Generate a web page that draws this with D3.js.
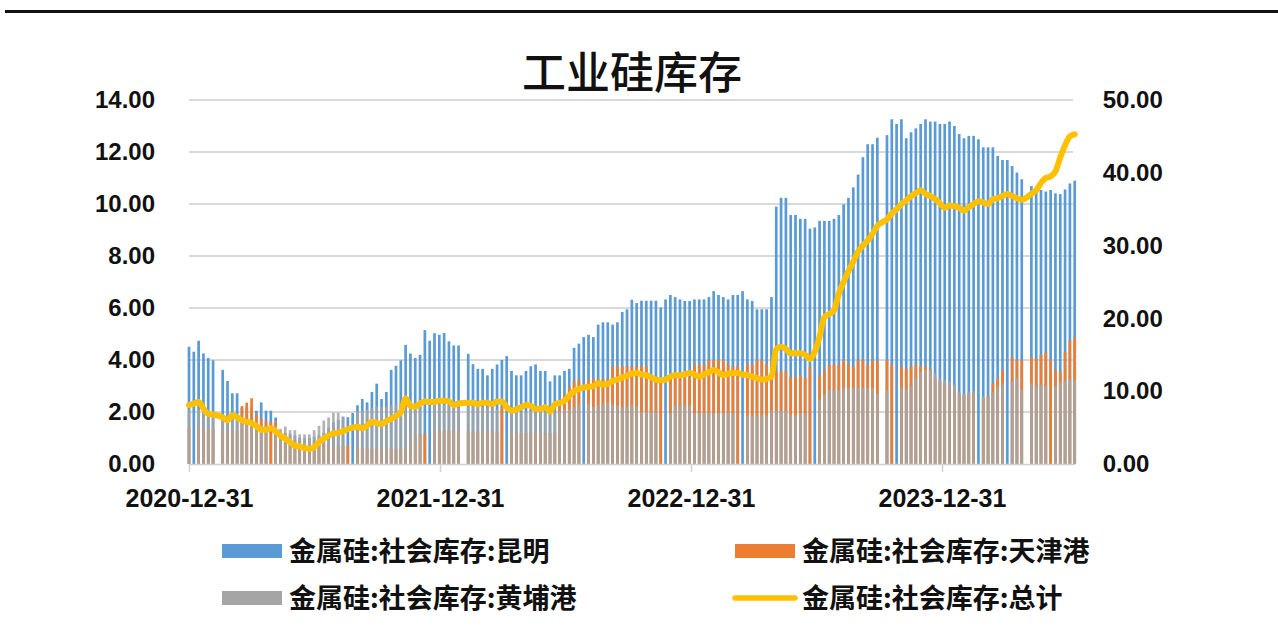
<!DOCTYPE html>
<html>
<head>
<meta charset="utf-8">
<script src="https://cdn.jsdelivr.net/npm/d3@7"></script>
<style>
  body { margin: 0; background: #fff; }
  text { font-family: "Liberation Sans", Arial, sans-serif; }
  .cjk { font-family: "Noto Sans CJK SC", sans-serif; }
</style>
</head>
<body>
<div id="viz"></div>
<script>
// set up width and height
const width = 1278;
const height = 642;

// weekly points, first one on 2020-12-31
const firstWeek = new Date(2020, 11, 31);
const yearTicks = ["2020-12-31", "2021-12-31", "2022-12-31", "2023-12-31"];
const leftTicks = [0, 2, 4, 6, 8, 10, 12, 14];
const rightTicks = [0, 10, 20, 30, 40, 50];
const seriesNames = ["金属硅:社会库存:昆明", "金属硅:社会库存:天津港", "金属硅:社会库存:黄埔港", "金属硅:社会库存:总计"];

// 昆明
const kunming = [4.51,4.32,4.74,4.25,4.08,3.99,null,3.62,3.19,2.72,2.72,2.15,2.2,2.2,2.05,2.37,2.05,2.05,1.79,1.25,
1.2,1.15,1.1,1.0,1.0,1.0,1.05,1.1,1.2,1.4,1.6,1.7,1.8,1.8,1.96,2.26,2.5,2.37,2.77,3.09,
2.5,2.77,3.62,3.78,3.99,4.58,4.25,4.08,4.2,5.15,4.74,5.03,4.97,5.04,4.72,4.56,4.56,null,4.24,3.84,
3.66,3.66,3.41,3.66,3.83,4.0,4.15,3.58,3.41,3.41,3.58,3.76,3.83,3.58,3.58,3.18,3.41,3.41,3.58,3.66,
4.47,4.63,4.88,4.97,4.88,5.36,5.45,5.45,5.36,5.45,5.85,5.95,6.32,6.19,6.28,6.28,6.28,6.28,6.02,6.33,
6.5,6.42,6.33,6.27,6.27,6.33,6.33,6.33,6.42,6.65,6.5,6.42,6.33,6.5,6.5,6.65,6.33,6.27,5.95,5.95,
5.95,6.42,9.9,10.24,10.24,9.58,9.58,9.43,9.43,9.05,9.1,9.35,9.35,9.35,9.43,9.58,9.99,10.24,10.64,11.13,
11.8,12.3,12.3,12.55,null,12.65,13.26,13.08,13.26,12.53,12.76,12.91,13.08,13.26,13.17,13.17,13.08,13.08,13.17,13.0,
12.69,12.53,12.62,12.62,12.49,12.18,12.18,12.18,11.85,11.69,11.69,11.46,11.21,10.95,null,10.69,10.54,10.54,10.48,10.54,
10.41,10.38,10.56,10.79,10.9];

// 天津港
const tianjin = [1.4,null,1.4,1.4,1.35,1.35,null,1.3,1.3,1.3,1.3,2.23,2.36,2.53,1.9,1.75,1.65,1.62,1.62,1.0,
0.95,0.95,0.9,0.9,0.85,0.85,0.8,0.8,0.75,0.75,0.7,0.7,0.7,0.72,null,0.6,0.6,0.6,0.6,0.6,
0.6,0.6,0.6,0.6,0.6,0.6,1.0,1.1,1.15,1.15,null,1.3,1.3,1.3,1.3,1.3,1.3,null,1.25,1.25,
1.25,1.25,1.25,1.25,1.25,2.2,null,1.2,1.2,1.2,1.2,1.2,1.2,1.2,1.2,1.2,1.2,2.2,2.68,2.95,
3.19,3.24,null,3.27,3.27,3.27,3.27,3.27,3.76,3.76,3.76,3.76,3.76,3.76,3.76,3.76,3.34,3.34,3.2,null,
3.34,3.34,3.34,3.34,3.34,3.82,3.82,3.82,4.0,4.0,4.0,4.0,3.82,3.76,3.76,null,3.82,3.82,4.0,4.0,
3.82,3.35,3.57,3.57,3.57,3.34,3.34,3.4,3.31,3.75,null,3.4,3.59,3.82,3.82,3.82,4.0,3.82,3.75,4.0,
4.0,3.82,4.0,3.95,null,4.0,3.82,null,3.75,3.65,3.75,3.82,3.75,3.75,3.65,3.3,3.2,3.1,3.0,2.9,
2.7,2.65,2.7,2.7,null,2.55,2.6,3.1,3.3,3.6,null,4.1,4.0,4.0,null,4.1,4.05,4.2,4.3,4.0,
3.6,3.55,4.3,4.75,4.85];

// 黄埔港
const huangpu = [2.1,null,2.1,2.05,2.05,2.0,null,1.9,1.9,1.85,1.8,1.6,1.55,1.5,1.5,1.5,1.45,null,1.45,1.35,
1.44,1.3,1.3,1.14,1.14,1.14,1.3,1.47,1.67,1.79,1.97,1.97,1.83,null,null,2.0,2.05,2.1,2.15,2.2,
2.2,2.2,2.25,2.3,2.3,2.3,2.3,2.25,2.25,null,null,2.3,2.3,2.28,2.25,2.3,2.3,null,2.2,2.25,
2.2,2.2,2.2,2.15,2.1,null,null,2.05,2.0,2.0,2.0,2.05,2.05,2.0,2.0,2.0,2.0,2.05,2.1,2.1,
2.2,2.25,null,2.3,2.2,2.25,2.3,2.35,2.3,2.25,2.2,2.2,2.3,2.2,2.0,2.0,2.0,2.0,null,null,
1.96,2.25,2.25,2.25,2.25,1.96,1.96,1.96,1.96,1.96,1.96,1.96,1.96,1.96,null,null,1.87,1.87,1.87,1.87,
1.87,2.04,2.04,2.04,2.04,1.87,1.87,1.95,1.95,null,null,2.45,2.7,2.85,2.85,2.85,2.93,2.93,2.93,2.93,
2.93,2.93,2.93,2.7,null,2.83,null,null,2.95,2.9,3.0,3.3,3.55,3.62,3.62,3.49,3.3,3.23,3.17,3.04,
2.78,2.72,2.78,2.8,null,2.6,2.6,2.75,2.97,3.1,null,3.17,3.3,2.85,null,3.1,3.0,3.05,3.0,null,
3.0,3.15,3.2,3.25,3.25];

// 总计 (right axis)
const total = [8.1,8.3,8.5,7.6,6.9,6.8,null,6.4,6.0,6.7,6.4,6.0,5.8,5.6,5.2,4.7,4.7,4.9,4.5,3.9,
3.5,3.0,2.5,2.4,2.2,2.1,2.3,3.0,3.5,3.9,4.2,4.3,4.5,4.8,5.0,5.1,4.9,5.3,5.8,5.6,
5.5,5.9,6.2,6.6,7.1,9.0,8.0,7.9,8.3,8.6,8.5,8.5,8.7,8.7,8.6,8.1,8.3,null,8.4,8.4,
8.2,8.4,8.4,8.2,8.6,8.6,7.8,7.3,7.5,7.8,8.1,8.0,7.6,7.6,7.8,7.2,8.2,8.4,8.7,9.4,
10.0,10.3,10.5,10.6,10.7,11.1,10.9,11.0,11.4,11.6,11.9,12.1,12.4,12.5,12.3,12.2,11.9,11.6,11.5,11.6,
12.0,12.2,12.2,12.3,12.5,12.3,12.0,12.3,12.6,12.9,12.6,12.2,12.4,12.5,12.5,12.3,12.2,12.0,11.8,11.6,
11.7,12.0,15.8,16.1,15.8,15.2,15.2,15.2,15.0,14.4,15.4,17.5,20.2,20.6,21.1,23.4,25.0,26.5,27.8,29.2,
30.0,30.7,31.6,32.7,null,33.6,34.4,35.0,35.7,36.2,36.8,37.2,37.6,37.1,36.8,36.4,35.8,35.2,35.5,35.4,
35.2,34.8,35.3,35.7,36.1,35.9,35.7,36.4,36.5,36.8,37.1,36.8,36.5,36.3,null,37.1,37.6,38.6,39.3,39.5,
40.2,42.1,43.8,45.0,45.3];

const colors = ["#5B9BD5", "#ED7D31", "#A5A5A5", "#FFC000"];

const parseDay = d3.timeParse("%Y-%m-%d");
const weeks = kunming.map((d, i) => d3.timeDay.offset(firstWeek, 7 * i));

const svg = d3.select("#viz").append("svg")
    .attr("width", width)
    .attr("height", height);

// black rule across the top
svg.append("line")
    .attr("x1", 5).attr("x2", width)
    .attr("y1", 11.5).attr("y2", 11.5)
    .attr("stroke", "#111")
    .attr("stroke-width", 3);

svg.append("text")
    .attr("class", "cjk")
    .attr("x", 632)
    .attr("y", 89)
    .style("text-anchor", "middle")
    .style("font-size", "44px")
    .style("font-weight", "500")
    .style("fill", "#111")
    .text("工业硅库存");

const x = d3.scaleTime()
    .domain([firstWeek, weeks[weeks.length - 1]])
    .range([189, 1074.7]);

const yL = d3.scaleLinear().domain([0, 14]).range([464, 100]);
const yR = d3.scaleLinear().domain([0, 50]).range([464, 100]);

// gridlines
svg.append("g")
    .selectAll("line")
    .data(leftTicks.filter(d => d > 0))
    .join("line")
    .attr("x1", 189).attr("x2", 1073)
    .attr("y1", d => yL(d)).attr("y2", d => yL(d))
    .attr("stroke", "#d9d9d9")
    .attr("stroke-width", 2);

// bars, drawn on top of each other like excel overlap 100%
const barW = 2.7;
const barSeries = [kunming, tianjin, huangpu];
const barOpacity = [1, 1, 0.85];
barSeries.forEach((vals, k) => {
    svg.append("g")
        .selectAll("rect")
        .data(vals.map((v, i) => ({date: weeks[i], value: v})).filter(d => d.value != null))
        .join("rect")
        .attr("x", d => x(d.date) - barW / 2)
        .attr("width", barW)
        .attr("y", d => yL(d.value))
        .attr("height", d => yL(0) - yL(d.value))
        .style("fill", colors[k])
        .style("fill-opacity", barOpacity[k]);
});

// x axis
const xAxis = d3.axisBottom(x)
    .tickValues(yearTicks.map(parseDay))
    .tickFormat(d3.timeFormat("%Y-%m-%d"))
    .tickSize(8)
    .tickPadding(17)
    .tickSizeOuter(0);

const gx = svg.append("g")
    .attr("transform", "translate(0,464)")
    .call(xAxis);
gx.select(".domain").attr("stroke", "#d0d0d0").attr("stroke-width", 1.5);
gx.selectAll(".tick line").attr("stroke", "#d0d0d0").attr("stroke-width", 1.5);
gx.selectAll("text")
    .style("font-size", "25px")
    .style("font-weight", "bold")
    .style("fill", "#111");

// left axis
const gl = svg.append("g")
    .attr("transform", "translate(189,0)")
    .call(d3.axisLeft(yL).tickValues(leftTicks).tickFormat(d3.format(".2f")).tickSize(0).tickPadding(34));
gl.select(".domain").remove();
gl.selectAll("text")
    .style("font-size", "24px")
    .style("font-weight", "bold")
    .style("fill", "#111");

// right axis
const gr = svg.append("g")
    .attr("transform", "translate(1074.7,0)")
    .call(d3.axisRight(yR).tickValues(rightTicks).tickFormat(d3.format(".2f")).tickSize(0).tickPadding(28));
gr.select(".domain").remove();
gr.selectAll("text")
    .style("font-size", "24px")
    .style("font-weight", "bold")
    .style("fill", "#111");

// total line
const totalPts = total.map((v, i) => ({date: weeks[i], value: v})).filter(d => d.value != null);
svg.append("path")
    .datum(totalPts)
    .attr("fill", "none")
    .attr("stroke", colors[3])
    .attr("stroke-width", 6)
    .attr("stroke-linejoin", "round")
    .attr("stroke-linecap", "round")
    .attr("d", d3.line().x(d => x(d.date)).y(d => yR(d.value)).curve(d3.curveMonotoneX));

// legend
const legendPos = [[222, 551], [735, 551], [222, 598], [735, 598]];
const legend = svg.append("g").attr("class", "legend");
seriesNames.forEach((name, i) => {
    const [lx, ly] = legendPos[i];
    if (i < 3) {
        legend.append("rect")
            .attr("x", lx).attr("y", ly - 7)
            .attr("width", 60).attr("height", 14)
            .style("fill", colors[i]);
    } else {
        legend.append("line")
            .attr("x1", lx).attr("x2", lx + 60)
            .attr("y1", ly).attr("y2", ly)
            .attr("stroke", colors[i])
            .attr("stroke-width", 5.5)
            .attr("stroke-linecap", "round");
    }
    legend.append("text")
        .attr("class", "cjk")
        .attr("x", lx + 67)
        .attr("y", ly)
        .attr("dy", "0.36em")
        .style("font-size", "27px")
        .style("font-weight", "bold")
        .style("fill", "#111")
        .text(name);
});
</script>
</body>
</html>
